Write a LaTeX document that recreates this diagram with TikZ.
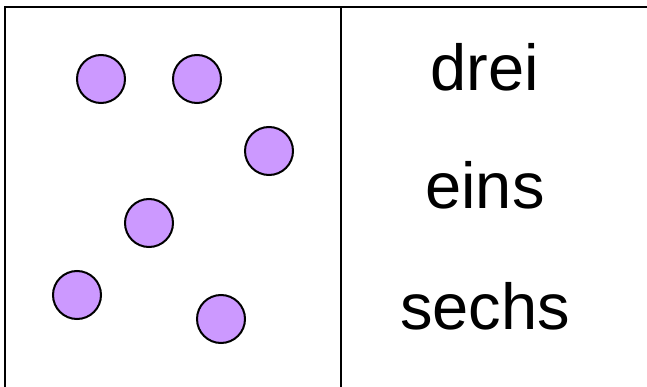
\documentclass[tikz,border=0pt]{standalone}
\usepackage{fontspec}
\setmainfont{Liberation Sans}
\usepackage{tikz}
\definecolor{balllila}{HTML}{CC99FF}

\begin{document}
\begin{tikzpicture}[x=1pt,y=-1pt,line width=2pt,
    ball/.style={circle,draw=black,fill=balllila,minimum size=48pt,inner sep=0pt},
    word/.style={anchor=base,font=\fontsize{65}{70}\selectfont}] % Balls and words
       \useasboundingbox (0,0) rectangle (647,387);
       \coordinate (tl) at (5,7);
       \coordinate (tr) at (647,7);
       \coordinate (bl) at (5,387);
       \coordinate (mt) at (341,7);
       \coordinate (mb) at (341,387);
       \draw (bl)--(tl)--(tr);
       \draw (mt)--(mb);
       \node[ball] (b1) at (101,79) {};
       \node[ball] (b2) at (197,79) {};
       \node[ball] (b3) at (269,151) {};
       \node[ball] (b4) at (149,223) {};
       \node[ball] (b5) at (77,295) {};
       \node[ball] (b6) at (221,319) {};
       \node[word] (drei) at (485,91) {drei};
       \node[word] (eins) at (485,209) {eins};
       \node[word] (sechs) at (485,329) {sechs};
   \end{tikzpicture}
\end{document}
